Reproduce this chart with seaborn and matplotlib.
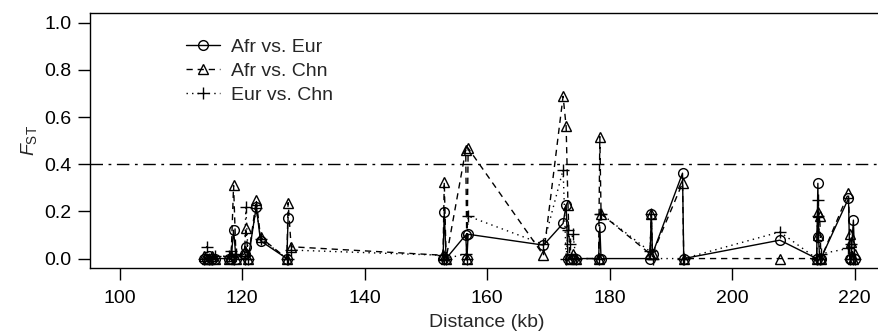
import matplotlib
matplotlib.use("Agg")

import matplotlib.pyplot as plt
from matplotlib.lines import Line2D
import numpy as np
import pandas as pd
import seaborn as sns

# -------------------------------------------------------
# Data (SNP positions in kb, pairwise Fst values)
# -------------------------------------------------------

positions = [113.8, 114.2, 114.6, 115.0, 115.5,
             117.8, 118.2, 118.6, 119.0,
             120.4, 120.6, 121.0, 122.3, 123.0,
             127.3, 127.5, 128.0,
             152.8, 153.0, 153.3,
             156.5, 156.7, 156.9,
             169.2,
             172.4, 172.9, 173.2, 173.5, 174.0, 174.5,
             178.2, 178.4, 178.6,
             186.6, 186.8, 187.0,
             191.9, 192.1,
             207.8,
             213.8, 214.0, 214.1, 214.3, 214.5,
             219.0, 219.2, 219.4, 219.8, 220.0]

afr_eur = [0.0, 0.0, 0.01, 0.0, 0.0,
           0.0, 0.0, 0.12, 0.0,
           0.02, 0.047, 0.0, 0.22, 0.075,
           0.0, 0.174, np.nan,
           0.0, 0.198, 0.0,
           0.10, 0.0, 0.103,
           0.057,
           0.149, 0.227, 0.0, 0.0, 0.0, 0.0,
           0.0, 0.134, 0.0,
           0.0, 0.19, 0.02,
           0.362, 0.0,
           0.078,
           0.0, 0.319, 0.09, 0.0, 0.0,
           0.255, 0.0, 0.0, 0.163, 0.0]

afr_chn = [0.01, 0.0, 0.0, 0.01, 0.0,
           0.0, 0.01, 0.31, 0.0,
           0.03, 0.13, 0.0, 0.248, 0.09,
           0.0, 0.237, 0.05,
           0.014, 0.326, 0.0,
           0.46, 0.0, 0.468,
           0.014,
           0.688, 0.56, 0.227, 0.0, 0.02, 0.0,
           0.0, 0.517, 0.19,
           0.02, 0.19, 0.02,
           0.32, 0.0,
           0.0,
           0.0, 0.198, 0.1, 0.18, 0.0,
           0.277, 0.106, 0.07, 0.0, 0.02]

eur_chn = [0.0, 0.05, 0.0, 0.0, 0.01,
           0.01, 0.03, 0.0, 0.02,
           0.0, 0.217, 0.0, 0.215, 0.085,
           0.0, 0.0, 0.036,
           0.014, 0.0, 0.0,
           0.02, 0.0, 0.18,
           0.06,
           0.376, 0.0, 0.12, 0.06, 0.106, 0.0,
           0.0, 0.19, 0.19,
           0.03, 0.19, 0.0,
           0.0, 0.0,
           0.113,
           0.0, 0.248, 0.18, 0.0, 0.02,
           0.043, 0.0, 0.06, 0.0, 0.0]

pair_labels = ["Afr vs. Eur", "Afr vs. Chn", "Eur vs. Chn"]
threshold = 0.4

x_ticks = [100, 120, 140, 160, 180, 200, 220]
y_ticks = [0.0, 0.2, 0.4, 0.6, 0.8, 1.0]

# -------------------------------------------------------
# Global Configuration
# -------------------------------------------------------

sns.set_style("ticks")
plt.rcParams["font.family"] = ["Liberation Sans", "DejaVu Sans"]
plt.rcParams["mathtext.fontset"] = "custom"
plt.rcParams["mathtext.rm"] = "Liberation Sans"
plt.rcParams["mathtext.it"] = "Liberation Sans:italic"

FONT_SIZE = 14
LW = 1.0

styles = {
    "Afr vs. Eur": dict(marker="o", linestyle="-", markersize=7),
    "Afr vs. Chn": dict(marker="^", linestyle=(0, (4.5, 3.5)), markersize=7.5),
    "Eur vs. Chn": dict(marker="+", linestyle=(0, (1, 3)), markersize=8.5),
}

frames = []
for label, values in zip(pair_labels, [afr_eur, afr_chn, eur_chn]):
    part = pd.DataFrame({"pos": positions, "fst": values, "pair": label})
    # split the series where values are missing so the line breaks there
    part["seg"] = part["fst"].isna().cumsum()
    frames.append(part.dropna())
df = pd.concat(frames, ignore_index=True)

fig = plt.figure(figsize=(8.79, 3.33), dpi=100)
ax = fig.add_axes([0.1027, 0.1952, 0.903, 0.765])

for label in pair_labels:
    st = styles[label]
    sns.lineplot(
        data=df[df["pair"] == label],
        x="pos",
        y="fst",
        units="seg",
        estimator=None,
        color="black",
        linewidth=LW,
        marker=st["marker"],
        linestyle=st["linestyle"],
        markersize=st["markersize"],
        markerfacecolor="none",
        markeredgecolor="black",
        markeredgewidth=LW,
        ax=ax,
        legend=False,
    )

ax.axhline(threshold, color="black", linewidth=1.0,
           linestyle=(0, (9, 4, 2, 4)), zorder=0)

ax.set_xlim(95.2, 224.8)
ax.set_ylim(-0.04, 1.04)
ax.set_xticks(x_ticks)
ax.set_yticks(y_ticks)
ax.set_yticklabels([f"{v:.1f}" for v in y_ticks])

for side in ["top", "right", "left", "bottom"]:
    ax.spines[side].set_visible(True)
    ax.spines[side].set_color("black")
    ax.spines[side].set_linewidth(1.0)

ax.tick_params(axis="both", direction="out", length=8.5, width=1.0,
               color="black", labelsize=FONT_SIZE, labelcolor="black")
ax.tick_params(axis="x", pad=7)
ax.tick_params(axis="y", pad=5)

ax.set_xlabel("Distance (kb)", fontsize=FONT_SIZE, labelpad=5.5)
ax.set_ylabel(r"$\mathit{F}_{\mathrm{ST}}$", fontsize=FONT_SIZE, labelpad=3.5)

handles = [
    Line2D([0], [0], color="black", linewidth=LW,
           marker=styles[lab]["marker"], linestyle=styles[lab]["linestyle"],
           markersize=styles[lab]["markersize"], markerfacecolor="none",
           markeredgewidth=LW)
    for lab in pair_labels
]

ax.legend(
    handles, pair_labels,
    loc="upper left",
    bbox_to_anchor=(0.2113, 0.885),
    bbox_transform=fig.transFigure,
    frameon=False,
    fontsize=FONT_SIZE,
    handlelength=1.75,
    handletextpad=0.6,
    labelspacing=0.33,
    borderpad=0,
    borderaxespad=0,
    numpoints=1,
)

fig.savefig("out.png", dpi=100)
plt.close(fig)
